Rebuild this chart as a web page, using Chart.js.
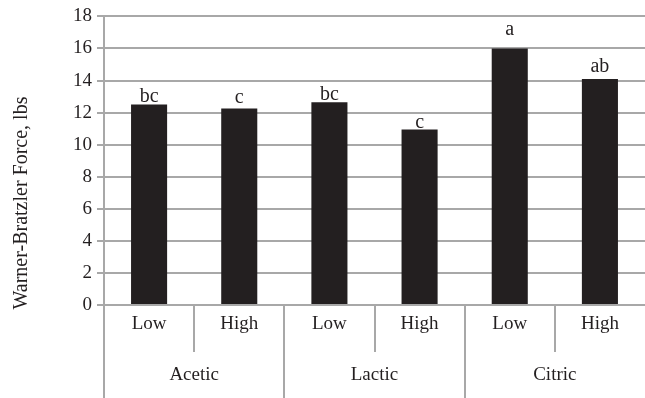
<!DOCTYPE html>
<html>
<head>
<meta charset="utf-8">
<script src="https://cdn.jsdelivr.net/npm/chart.js@4/dist/chart.umd.min.js"></script>
<style>
  html, body { margin: 0; padding: 0; background: #fff; }
  #wrap { width: 645px; height: 398px; position: relative; }
</style>
</head>
<body>
<div id="wrap"><canvas id="c" width="645" height="398"></canvas></div>
<script>
// Warner-Bratzler shear force by acid type and concentration
const acids = ['Acetic', 'Lactic', 'Citric'];
const levels = ['Low', 'High', 'Low', 'High', 'Low', 'High'];
const force = [12.5, 12.25, 12.65, 10.95, 16.0, 14.1];
const letters = ['bc', 'c', 'bc', 'c', 'a', 'ab'];
const letterGap = [3, 6, 2, 1, 13, 7];
const yTicks = [0, 2, 4, 6, 8, 10, 12, 14, 16, 18];

const FONT = "'Liberation Serif', 'DejaVu Serif', serif";
const GRID = '#a8a8a8';
const INK = '#231f20';

const groupAxis = {
  id: 'groupAxis',
  afterDraw(chart) {
    const { ctx, chartArea, scales } = chart;
    const x = scales.x;
    const per = levels.length / acids.length;
    const step = x.getPixelForValue(1) - x.getPixelForValue(0);
    ctx.save();
    ctx.strokeStyle = GRID;
    ctx.lineWidth = 2;
    // y axis line continued through the category area
    ctx.beginPath();
    ctx.moveTo(chartArea.left, chartArea.top);
    ctx.lineTo(chartArea.left, chart.height);
    ctx.stroke();
    for (let i = 1; i < levels.length; i++) {
      const px = Math.round(x.getPixelForValue(i) - step / 2);
      const major = i % per === 0;
      ctx.beginPath();
      ctx.moveTo(px, chartArea.bottom);
      ctx.lineTo(px, major ? chart.height : chartArea.bottom + 47);
      ctx.stroke();
    }
    // group names
    ctx.fillStyle = INK;
    ctx.font = '19px ' + FONT;
    ctx.textAlign = 'center';
    ctx.textBaseline = 'middle';
    acids.forEach((name, g) => {
      const a = x.getPixelForValue(g * per);
      const b = x.getPixelForValue(g * per + per - 1);
      ctx.fillText(name, (a + b) / 2, chartArea.bottom + 70);
    });
    // significance letters
    const meta = chart.getDatasetMeta(0);
    ctx.textBaseline = 'alphabetic';
    ctx.font = '20px ' + FONT;
    meta.data.forEach((bar, i) => {
      ctx.fillText(letters[i], bar.x, bar.y - letterGap[i]);
    });
    // axis title
    ctx.translate(27, 203);
    ctx.rotate(-Math.PI / 2);
    ctx.font = '20px ' + FONT;
    ctx.fillText('Warner-Bratzler Force, lbs', 0, 0);
    ctx.restore();
  }
};

new Chart(document.getElementById('c'), {
  type: 'bar',
  data: {
    labels: levels,
    datasets: [{
      data: force,
      backgroundColor: INK,
      borderWidth: 0,
      categoryPercentage: 1,
      barPercentage: 0.4
    }]
  },
  options: {
    responsive: false,
    animation: false,
    events: [],
    layout: { padding: { top: 6, right: 0, left: 0, bottom: 0 } },
    plugins: { legend: { display: false }, tooltip: { enabled: false } },
    scales: {
      x: {
        grid: { display: false, drawTicks: false },
        border: { display: false },
        ticks: { color: INK, font: { family: FONT, size: 19 }, padding: 8 },
        afterFit(s) { s.height = 93; }
      },
      y: {
        min: 0,
        max: 18,
        afterBuildTicks(s) { s.ticks = yTicks.map(v => ({ value: v })); },
        grid: { color: GRID, lineWidth: 2, tickLength: 7 },
        border: { color: GRID, width: 2 },
        ticks: { color: INK, font: { family: FONT, size: 19 }, padding: 5 },
        afterFit(s) { s.width = 104; }
      }
    }
  },
  plugins: [groupAxis]
});
</script>
</body>
</html>
